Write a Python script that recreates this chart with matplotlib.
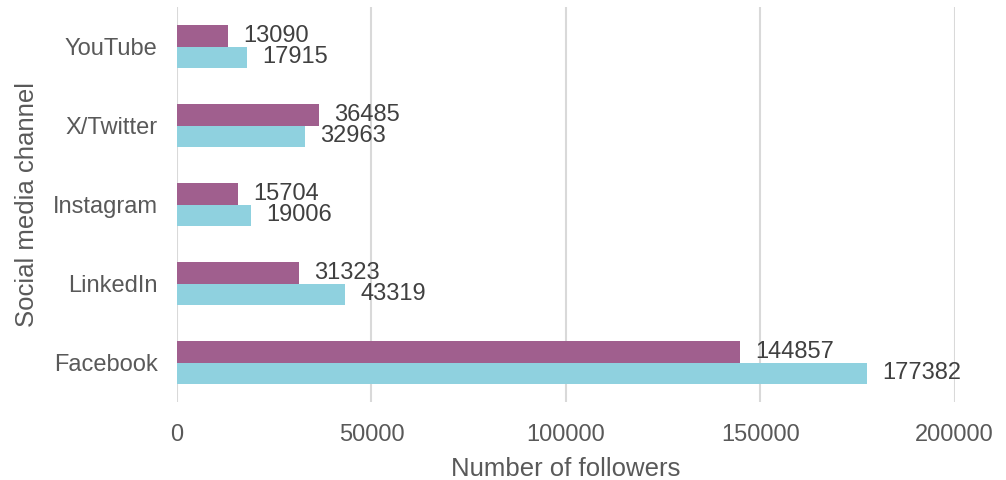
import matplotlib.pyplot as plt
import numpy as np

plt.rcParams['font.family'] = ['Liberation Sans', 'DejaVu Sans']

channels = ['Facebook', 'LinkedIn', 'Instagram', 'X/Twitter', 'YouTube']
series_a = [144857, 31323, 15704, 36485, 13090]   # purple bars (top of each pair)
series_b = [177382, 43319, 19006, 32963, 17915]   # cyan bars (bottom of each pair)
x_ticks = [0, 50000, 100000, 150000, 200000]

purple = '#A05F8E'
cyan = '#8FD1DF'
tick_col = '#595959'
label_col = '#404040'

fig = plt.figure(figsize=(10.06, 4.80), dpi=100)
ax = fig.add_axes([0.176, 0.1625, 0.773, 0.8225])

y = np.arange(len(channels))
h = 0.27
bars_a = ax.barh(y + h / 2, series_a, height=h, color=purple)
bars_b = ax.barh(y - h / 2, series_b, height=h, color=cyan)

for bars in (bars_a, bars_b):
    ax.bar_label(bars, labels=[str(v) for v in bars.datavalues], padding=11,
                 fontsize=17, color=label_col)

ax.set_xlim(0, 200000)
ax.set_ylim(-0.5, len(channels) - 0.5)
ax.set_xticks(x_ticks)
ax.set_xticklabels([str(t) for t in x_ticks])
ax.set_yticks(y)
ax.set_yticklabels(channels)
ax.tick_params(length=0, labelsize=17, colors=tick_col)
ax.tick_params(axis='x', pad=16)
ax.tick_params(axis='y', pad=14)

ax.set_xlabel('Number of followers', fontsize=18.5, color=tick_col, labelpad=8)
ax.set_ylabel('Social media channel', fontsize=18.5, color=tick_col, labelpad=10)

for s in ax.spines.values():
    s.set_visible(False)
ax.grid(axis='x', color='#D9D9D9', linewidth=1.5)
ax.set_axisbelow(True)

fig.savefig('out.png', dpi=100)
